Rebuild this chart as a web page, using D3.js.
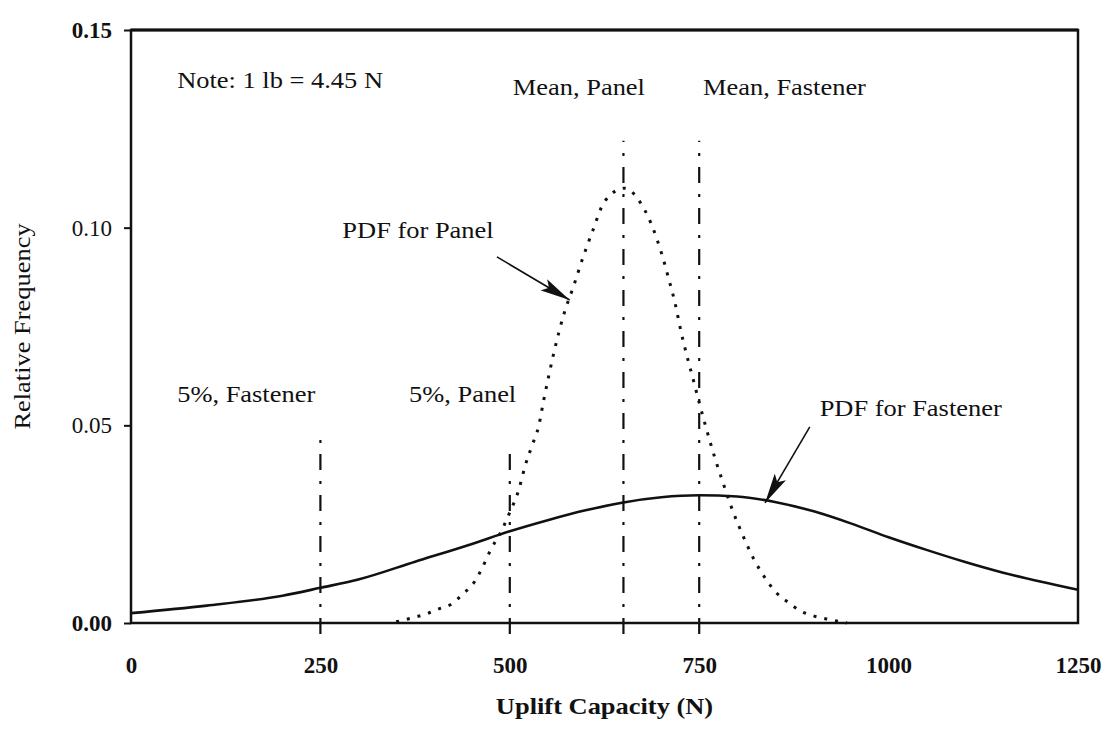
<!DOCTYPE html>
<html>
<head>
<meta charset="utf-8">
<script src="https://cdnjs.cloudflare.com/ajax/libs/d3/7.8.5/d3.min.js"></script>
<style>
  body { margin: 0; background: #fff; }
  svg { display: block; }
  text { font-family: "Liberation Serif", "DejaVu Serif", serif; fill: #111; }
</style>
</head>
<body>
<svg id="chart" width="1105" height="731"></svg>
<script>
// ---- data ----
// uplift capacity (N) and relative frequency for the fastener PDF (solid)
var fastenerN = [0, 100, 200, 250, 300, 375, 450, 500, 550, 600, 650, 700, 750, 800, 850, 900, 950, 1000, 1050, 1100, 1150, 1200, 1250];
var fastenerF = [0.0025, 0.0044, 0.0069, 0.0089, 0.0110, 0.0155, 0.0200, 0.0232, 0.0260, 0.0285, 0.0305, 0.0318, 0.0323, 0.0320, 0.0306, 0.0283, 0.0252, 0.0217, 0.0185, 0.0155, 0.0128, 0.0105, 0.0084];

// panel PDF (dotted)
var panelN = [350, 375, 390, 405, 423, 438, 454, 464, 474, 490, 500, 512, 520, 529, 538, 545, 572, 584, 597, 610, 625, 652, 670, 687, 700, 709, 720, 724, 743, 757, 770, 783, 795, 808, 822, 838, 851, 867, 884, 901, 924, 945];
var panelF = [0.0003, 0.0015, 0.0023, 0.0035, 0.0048, 0.0073, 0.0106, 0.0141, 0.0182, 0.0237, 0.0280, 0.0338, 0.0396, 0.0447, 0.0497, 0.0566, 0.0785, 0.0851, 0.0927, 0.0995, 0.1066, 0.1100, 0.1070, 0.1008, 0.0937, 0.0876, 0.0793, 0.0755, 0.0609, 0.0508, 0.0422, 0.0346, 0.0280, 0.0220, 0.0162, 0.0111, 0.0078, 0.0053, 0.0030, 0.0018, 0.0008, 0.0000];

// dash-dot reference lines: 5% fastener, 5% panel, mean panel, mean fastener
var refN = [250, 500, 650, 750];
var refTop = [0.047, 0.045, 0.122, 0.122];

var xTicks = [0, 250, 500, 750, 1000, 1250];
var yTicks = [0.00, 0.05, 0.10, 0.15];

// text labels, anchored in data units
var noteText = ["Note: 1 lb = 4.45 N", "Mean, Panel", "Mean, Fastener", "5%, Fastener", "5%, Panel", "PDF for Panel", "PDF for Fastener"];
var noteN = [61, 504, 755, 61, 367, 279, 909];
var noteF = [0.1353, 0.1336, 0.1336, 0.0559, 0.0559, 0.0974, 0.0524];

// arrows: tail -> tip (tip sits on the curve)
var arrowFromN = [483, 896];
var arrowFromF = [0.0926, 0.0496];
var arrowToN = [579, 837];
var arrowToF = [0.0817, 0.0304];


var svg = d3.select("#chart");
var pLeft = 131, pRight = 1078, pTop = 30, pBottom = 623;
var stretch = 1.15;

var x = d3.scaleLinear().domain([0, 1250]).range([pLeft, pRight]);
var y = d3.scaleLinear().domain([0, 0.15]).range([pBottom, pTop]);

var defs = svg.append("defs");
defs.append("marker")
    .attr("id", "head")
    .attr("viewBox", "0 0 30 13")
    .attr("refX", 30).attr("refY", 6.5)
    .attr("markerWidth", 30).attr("markerHeight", 13)
    .attr("markerUnits", "userSpaceOnUse")
    .attr("orient", "auto")
  .append("path")
    .attr("d", "M0,0 L30,6.5 L0,13 L6,6.5 Z")
    .attr("fill", "#111");

// frame
svg.append("rect")
   .attr("x", pLeft).attr("y", pTop)
   .attr("width", pRight - pLeft).attr("height", pBottom - pTop)
   .attr("fill", "none")
   .attr("stroke", "#111")
   .attr("stroke-width", 2.5);

// heavier top edge, as in the scan
svg.append("line")
   .attr("x1", pLeft).attr("x2", pRight)
   .attr("y1", pTop).attr("y2", pTop)
   .attr("stroke", "#111")
   .attr("stroke-width", 3.2);

// y axis
var yAxis = svg.append("g")
   .attr("transform", "translate(" + pLeft + ",0)")
   .call(d3.axisLeft(y).tickValues(yTicks).tickSize(7).tickPadding(12).tickFormat(d3.format(".2f")));
yAxis.select(".domain").remove();
yAxis.selectAll("line").attr("stroke", "#111").attr("stroke-width", 2);
yAxis.selectAll("text")
     .attr("font-family", "Liberation Serif")
     .attr("font-size", 23)
     .attr("fill", "#111")
     .attr("font-weight", function(d) { return (d == 0 || d == 0.15) ? "bold" : "normal"; });

// x axis (labels only, the dash-dot lines act as ticks)
var xAxis = svg.append("g")
   .attr("transform", "translate(0," + pBottom + ")")
   .call(d3.axisBottom(x).tickValues(xTicks).tickSize(0).tickPadding(34).tickFormat(d3.format("d")));
xAxis.select(".domain").remove();
xAxis.selectAll("text")
     .attr("font-family", "Liberation Serif")
     .attr("font-size", 23)
     .attr("font-weight", "bold")
     .attr("fill", "#111");

// axis titles
svg.append("text")
   .attr("transform", "translate(" + ((pLeft + pRight) / 2) + ",714) scale(" + stretch + ",1)")
   .attr("text-anchor", "middle")
   .attr("font-size", 23)
   .attr("font-weight", "bold")
   .text("Uplift Capacity (N)");

svg.append("text")
   .attr("transform", "translate(30," + ((pTop + pBottom) / 2) + ") rotate(-90) scale(" + stretch + ",1)")
   .attr("text-anchor", "middle")
   .attr("font-size", 23)
   .text("Relative Frequency");

// dash-dot reference lines
svg.selectAll(".ref")
   .data(refN)
   .join("line")
   .attr("class", "ref")
   .attr("x1", d => x(d)).attr("x2", d => x(d))
   .attr("y1", pBottom + 11)
   .attr("y2", (d, i) => y(refTop[i]))
   .attr("stroke", "#111")
   .attr("stroke-width", 2.2)
   .attr("stroke-dasharray", "16,11,3,11");

// curves
var fastener = fastenerN.map((n, i) => [n, fastenerF[i]]);
var panel = panelN.map((n, i) => [n, panelF[i]]);

var line = d3.line()
   .x(d => x(d[0]))
   .y(d => y(d[1]))
   .curve(d3.curveMonotoneX);

svg.append("path")
   .datum(panel)
   .attr("d", line)
   .attr("fill", "none")
   .attr("stroke", "#111")
   .attr("stroke-width", 3)
   .attr("stroke-dasharray", "3,8");

svg.append("path")
   .datum(fastener)
   .attr("d", line)
   .attr("fill", "none")
   .attr("stroke", "#111")
   .attr("stroke-width", 2.6);

// arrows
svg.selectAll(".arrow")
   .data(arrowFromN)
   .join("line")
   .attr("class", "arrow")
   .attr("x1", d => x(d))
   .attr("y1", (d, i) => y(arrowFromF[i]))
   .attr("x2", (d, i) => x(arrowToN[i]))
   .attr("y2", (d, i) => y(arrowToF[i]))
   .attr("stroke", "#111")
   .attr("stroke-width", 1.6)
   .attr("marker-end", "url(#head)");

// annotations
svg.selectAll(".note")
   .data(noteText)
   .join("text")
   .attr("class", "note")
   .attr("transform", (d, i) => "translate(" + x(noteN[i]) + "," + y(noteF[i]) + ") scale(" + stretch + ",1)")
   .attr("font-size", 23)
   .text(d => d);
</script>
</body>
</html>
